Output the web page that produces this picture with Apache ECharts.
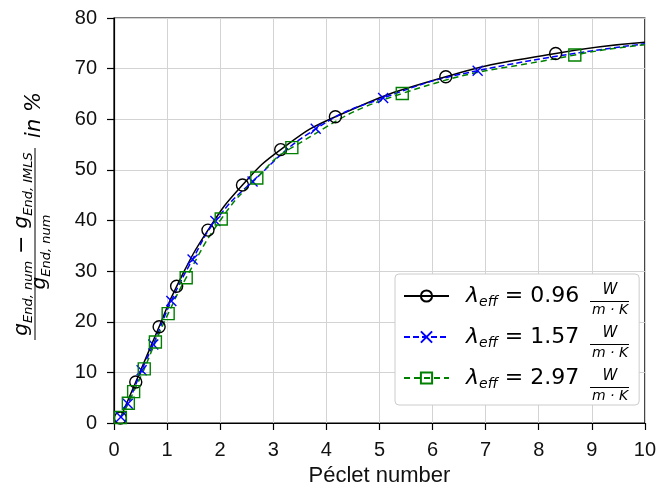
<!DOCTYPE html>
<html>
<head>
<meta charset="utf-8">
<script src="https://cdn.jsdelivr.net/npm/echarts@6/dist/echarts.min.js"></script>
<style>
  html, body { margin: 0; padding: 0; background: #fff; }
  #chart { width: 659px; height: 494px; }
</style>
</head>
<body>
<div id="chart"></div>
<script>
// values (last point of each curve is line only, no marker)
const pe096 = [0.12, 0.41, 0.85, 1.18, 1.77, 2.42, 3.14, 4.17, 6.25, 8.32, 10];
const err096 = [1.0, 8.1, 19.0, 27.0, 38.1, 47.0, 54.0, 60.5, 68.4, 73.0, 75.2];
const pe157 = [0.13, 0.26, 0.52, 0.74, 1.08, 1.48, 1.91, 2.61, 3.80, 5.07, 6.85, 10];
const err157 = [1.2, 3.8, 10.4, 15.5, 24.1, 32.3, 39.9, 47.7, 58.1, 64.2, 69.6, 74.9];
const pe297 = [0.12, 0.27, 0.37, 0.57, 0.78, 1.02, 1.36, 2.02, 2.69, 3.35, 5.43, 8.68, 10];
const err297 = [1.1, 3.9, 6.2, 10.7, 16.0, 21.6, 28.7, 40.3, 48.4, 54.4, 65.1, 72.7, 74.7];
const lambdas = ['0.96', '1.57', '2.97'];

const chart = echarts.init(document.getElementById('chart'));

const MATH = 'DejaVu Sans';
const SANS = 'Liberation Sans';

// turn x/y arrays into points, the last one drawn without a marker
const toPoints = (xs, ys) => xs.map((x, i) => {
  const p = { value: [x, ys[i]] };
  if (i === xs.length - 1) p.symbol = 'none';
  return p;
});

const crossPath = 'path://M0,0L10,10M10,0L0,10';

const mkSeries = (name, xs, ys, color, dash, symbol, size) => ({
  type: 'line',
  name: name,
  data: toPoints(xs, ys),
  smooth: 0.5,
  symbol: symbol,
  symbolSize: size,
  showAllSymbol: true,
  lineStyle: { color: color, width: 1.5, type: dash },
  itemStyle: { color: 'rgba(0,0,0,0)', borderColor: color, borderWidth: 1.4 },
  emphasis: { disabled: true },
  z: 3
});

// legend layout numbers (also used for the W/(m·K) fractions)
const legLeft = 395, legTop = 274, legPadTop = 11, legRowH = 26, legGap = 17;
const rowCenter = i => legTop + legPadTop + legRowH / 2 + i * (legRowH + legGap);

const subRich = {
  lam: { fontFamily: MATH, fontStyle: 'italic', fontSize: 22, lineHeight: 26, verticalAlign: 'middle', color: '#000', padding: [0, 0, 0, 12] },
  sub: { fontFamily: MATH, fontStyle: 'italic', fontSize: 14, lineHeight: 14, verticalAlign: 'bottom', color: '#000' },
  eq: { fontFamily: MATH, fontSize: 22, lineHeight: 26, verticalAlign: 'middle', color: '#000' }
};

const fractions = [];
lambdas.forEach((l, i) => {
  const c = rowCenter(i);
  fractions.push(
    { type: 'text', x: 610, y: c - 0.5, style: { text: 'W', font: 'italic 15px "DejaVu Sans"', fill: '#000', align: 'center', verticalAlign: 'bottom' }, z: 20 },
    { type: 'line', shape: { x1: 590, y1: c + 3.5, x2: 629, y2: c + 3.5 }, style: { stroke: '#000', lineWidth: 1 }, z: 20 },
    { type: 'text', x: 610, y: c + 5, style: { text: 'm · K', font: 'italic 14px "DejaVu Sans"', fill: '#000', align: 'center', verticalAlign: 'top' }, z: 20 }
  );
});

const gRich = {
  g: { fontFamily: MATH, fontStyle: 'italic', fontSize: 20, lineHeight: 26, verticalAlign: 'middle', color: '#000' },
  s: { fontFamily: MATH, fontStyle: 'italic', fontSize: 13, lineHeight: 13, verticalAlign: 'bottom', color: '#000' },
  op: { fontFamily: MATH, fontSize: 22, lineHeight: 26, verticalAlign: 'middle', color: '#000' }
};

const yLabel = {
  type: 'group',
  x: 35, y: 244,
  rotation: Math.PI / 2,
  children: [
    { type: 'text', x: 0, y: -13, style: { text: '{g|g}{s|End, num}{op| − }{g|g}{s|End, IMLS}', rich: gRich, align: 'center', verticalAlign: 'middle' } },
    { type: 'line', shape: { x1: -96, y1: 0, x2: 96, y2: 0 }, style: { stroke: '#000', lineWidth: 1 } },
    { type: 'text', x: -8, y: 5, style: { text: '{g|g}{s|End, num}', rich: gRich, align: 'center', verticalAlign: 'middle' } },
    { type: 'text', x: 129, y: 0, style: { text: 'in %', font: 'italic 21px "DejaVu Sans"', fill: '#000', align: 'center', verticalAlign: 'middle' } }
  ]
};

const option = {
  backgroundColor: '#fff',
  animation: false,
  grid: {
    left: 114, right: 11, top: 18, bottom: 71,
    show: true, borderColor: '#000', borderWidth: 1.2, backgroundColor: 'transparent'
  },
  xAxis: {
    type: 'value',
    min: 0, max: 10, interval: 1,
    name: 'Péclet number',
    nameLocation: 'middle',
    nameGap: 37,
    nameTextStyle: { fontFamily: SANS, fontSize: 22, color: '#111' },
    axisLine: { lineStyle: { color: '#000', width: 1.2 } },
    axisTick: { inside: false, length: 7, lineStyle: { color: '#000', width: 1.2 } },
    axisLabel: { fontFamily: SANS, fontSize: 20, color: '#111', margin: 17 },
    splitLine: { show: true, lineStyle: { color: '#d3d3d3', width: 1 } }
  },
  yAxis: {
    type: 'value',
    min: 0, max: 80, interval: 10,
    axisLine: { show: true, lineStyle: { color: '#000', width: 1.2 } },
    axisTick: { show: true, inside: false, length: 7, lineStyle: { color: '#000', width: 1.2 } },
    axisLabel: { fontFamily: SANS, fontSize: 20, color: '#111', margin: 17 },
    splitLine: { show: true, lineStyle: { color: '#d3d3d3', width: 1 } }
  },
  legend: {
    orient: 'vertical',
    left: legLeft, top: legTop,
    itemWidth: 45, itemHeight: 14, itemGap: legGap,
    padding: [legPadTop, 60, 14, 8],
    backgroundColor: '#fff',
    borderColor: '#cccccc', borderWidth: 1, borderRadius: 4,
    selectedMode: false,
    data: lambdas,
    formatter: name => `{lam|λ}{sub|eff}{eq| = ${name}}`,
    textStyle: { rich: subRich }
  },
  graphic: [yLabel].concat(fractions),
  series: [
    mkSeries(lambdas[0], pe096, err096, '#000000', 'solid', 'circle', 12),
    mkSeries(lambdas[1], pe157, err157, '#0000ff', [6, 3], crossPath, 10),
    mkSeries(lambdas[2], pe297, err297, '#008000', [6, 4], 'rect', 12)
  ]
};

chart.setOption(option);
</script>
</body>
</html>
